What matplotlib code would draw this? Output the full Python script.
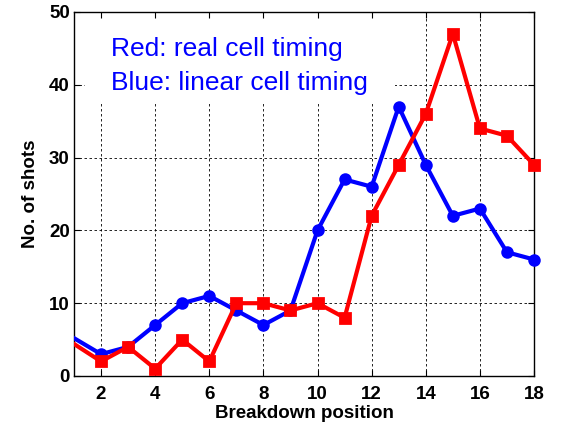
import matplotlib
matplotlib.use("Agg")
import matplotlib.pyplot as plt
from matplotlib.patches import Rectangle

# Breakdown positions and shot counts for the two timing models
positions = [1, 2, 3, 4, 5, 6, 7, 8, 9, 10, 11, 12, 13, 14, 15, 16, 17, 18]
linear_timing = [5.2, 3, 4, 7, 10, 11, 9, 7, 9, 20, 27, 26, 37, 29, 22, 23, 17, 16]
real_timing = [4.4, 2, 4, 1, 5, 2, 10, 10, 9, 10, 8, 22, 29, 36, 47, 34, 33, 29]

x_ticks = [2, 4, 6, 8, 10, 12, 14, 16, 18]
y_ticks = [0, 10, 20, 30, 40, 50]

legend_lines = ["Red: real cell timing", "Blue: linear cell timing"]

plt.rcParams['font.family'] = ['Liberation Sans', 'DejaVu Sans']

fig = plt.figure(figsize=(5.61, 4.25), dpi=100)
ax = fig.add_axes([0.1319, 0.1153, 0.82, 0.8565])

ax.set_xlim(1, 18)
ax.set_ylim(0, 50)

# dashed grid drawn underneath everything else
grid_kw = dict(color='black', linestyle=(0, (3, 3)), linewidth=0.6, zorder=0.5)
for xv in x_ticks:
    ax.axvline(xv, **grid_kw)
for yv in y_ticks:
    ax.axhline(yv, **grid_kw)

# white panel behind the annotation text
ax.add_patch(Rectangle((0.024, 0.753), 0.674, 0.247, transform=ax.transAxes,
                       facecolor='white', edgecolor='none', zorder=1))

blue = (0, 0, 1)
red = (1, 0, 0)

# connecting lines clipped to the axes, markers from position 2 on
ax.plot(positions, linear_timing, color=blue, linewidth=3, zorder=3)
ax.plot(positions, real_timing, color=red, linewidth=3, zorder=4)
ax.plot(positions[1:], linear_timing[1:], linestyle='none', marker='o',
        markersize=7.5, markerfacecolor=blue, markeredgecolor=blue,
        markeredgewidth=1.5, clip_on=False, zorder=3)
ax.plot(positions[1:], real_timing[1:], linestyle='none', marker='s',
        markersize=7.5, markerfacecolor=red, markeredgecolor=red,
        markeredgewidth=2, clip_on=False, zorder=4)

ax.text(0.0798, 0.879, legend_lines[0], transform=ax.transAxes, color=blue,
        fontsize=19, va='baseline', ha='left', zorder=5)
ax.text(0.0798, 0.786, legend_lines[1], transform=ax.transAxes, color=blue,
        fontsize=19, va='baseline', ha='left', zorder=5)

ax.set_xticks(x_ticks)
ax.set_yticks(y_ticks)
ax.tick_params(axis='both', direction='in', length=4, width=0.8,
               top=True, right=True, labelsize=13.5, colors='black')
ax.tick_params(axis='x', pad=7)
ax.tick_params(axis='y', pad=3)
for lbl in ax.get_xticklabels() + ax.get_yticklabels():
    lbl.set_fontweight('bold')

for sp in ax.spines.values():
    sp.set_linewidth(1.0)
    sp.set_color('black')

ax.set_xlabel("Breakdown position", fontsize=13.5, fontweight='bold', labelpad=2)
ax.set_ylabel("No. of shots", fontsize=13.5, fontweight='bold', labelpad=7)

fig.savefig("out.png", dpi=100)
